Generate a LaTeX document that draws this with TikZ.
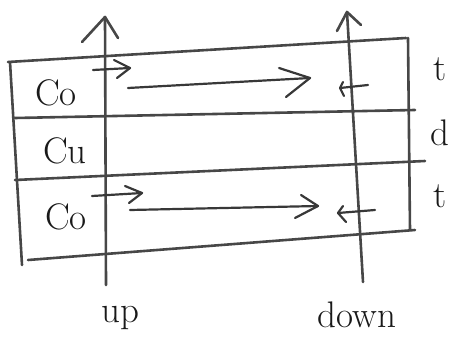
\documentclass[tikz,border=0pt]{standalone}
\usepackage{fontspec}
\begin{document}
\begin{tikzpicture}[x=1pt,y=-1pt,
  pencil/.style={draw=black!72,line width=2.6pt,line cap=round,line join=round},
  thinpencil/.style={draw=black!78,line width=2.2pt,line cap=round,line join=round},
  lbl/.style={text=black!90,font=\fontsize{37}{39}\selectfont,inner sep=0pt}]
\useasboundingbox (0,0) rectangle (456,345);

% frame of the layer stack
\coordinate (tl) at (8,62);   \coordinate (tr) at (406,38);
\coordinate (al) at (15,118); \coordinate (ar) at (415,110);
\coordinate (bl) at (15,180); \coordinate (br) at (425,161);
\coordinate (ul) at (28,260); \coordinate (ur) at (415,230);
\draw[pencil] (tl) -- (tr);
\draw[pencil] (al) -- (ar);
\draw[pencil] (bl) -- (br);
\draw[pencil] (ul) -- (ur);
\coordinate (lt) at (10,62);  \coordinate (lb) at (22,265);
\coordinate (rt) at (408,38); \coordinate (rb) at (410,230);
\draw[pencil] (lt) -- (lb);
\draw[pencil] (rt) -- (rb);

% the two vertical axes
\coordinate (upbot) at (106,285); \coordinate (uptop) at (105,17);
\draw[pencil] (upbot) -- (uptop);
\draw[pencil] (82,42) -- (uptop) -- (118,38);
\coordinate (dnbot) at (363,282); \coordinate (dntop) at (347,12);
\draw[pencil] (dnbot) -- (dntop);
\draw[pencil] (337,31) -- (dntop) -- (361,25);

% arrows in the upper Co layer
\coordinate (a1s) at (93,70); \coordinate (a1e) at (130,68);
\draw[thinpencil] (a1s) -- (a1e);
\draw[thinpencil] (114,60) -- (a1e) -- (117,78);
\coordinate (b1s) at (128,88); \coordinate (b1e) at (310,78);
\draw[thinpencil] (b1s) -- (b1e);
\draw[thinpencil] (279,68) -- (b1e) -- (286,97);
\coordinate (c1s) at (368,85); \coordinate (c1e) at (340,88);
\draw[thinpencil] (c1s) -- (c1e);
\draw[thinpencil] (343,82) -- (c1e) -- (344,96);

% arrows in the lower Co layer
\coordinate (a3s) at (92,196); \coordinate (a3e) at (142,193);
\draw[thinpencil] (a3s) -- (a3e);
\draw[thinpencil] (125,186) -- (a3e) -- (129,203);
\coordinate (b3s) at (130,210); \coordinate (b3e) at (318,206);
\draw[thinpencil] (b3s) -- (b3e);
\draw[thinpencil] (301,195) -- (b3e) -- (295,218);
\coordinate (c3s) at (375,210); \coordinate (c3e) at (338,213);
\draw[thinpencil] (c3s) -- (c3e);
\draw[thinpencil] (343,206) -- (c3e) -- (346,222);

% labels
\node[lbl] (co1) at (56,93) {Co};
\node[lbl] (cu)  at (65,151) {Cu};
\node[lbl] (co2) at (66,217) {Co};
\node[lbl] (t1)  at (440,69) {t};
\node[lbl] (d)   at (440,133) {d};
\node[lbl] (t2)  at (440,196) {t};
\node[lbl] (up)  at (120,318) {up};
\node[lbl] (dn)  at (357,315) {down};
\end{tikzpicture}
\end{document}
